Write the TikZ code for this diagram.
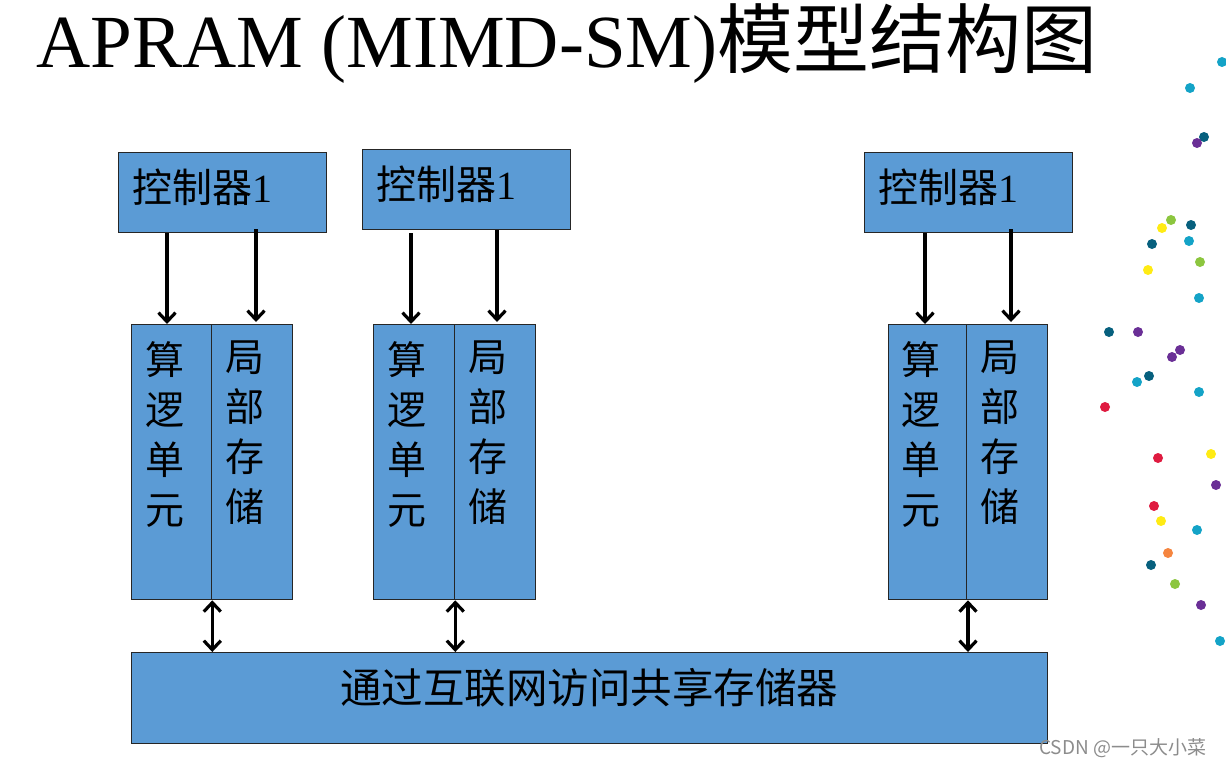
\documentclass[tikz,border=0pt]{standalone}
\usepackage{fontspec}
\setmainfont{Liberation Serif}
\newfontfamily\cjk{Noto Sans CJK SC}
\usetikzlibrary{arrows.meta}
\definecolor{boxblue}{HTML}{5B9BD5}
\definecolor{dcyan}{HTML}{14A3C7}
\definecolor{dteal}{HTML}{07607E}
\definecolor{dpurple}{HTML}{6A2F96}
\definecolor{dgreen}{HTML}{8CC63F}
\definecolor{dyellow}{HTML}{FFEB14}
\definecolor{dred}{HTML}{DF1B40}
\definecolor{dorange}{HTML}{F5853F}
\tikzset{
  bx/.style={draw=black!85, line width=1.3pt, fill=boxblue, inner sep=0pt, anchor=north west},
  arr/.style={line width=3.2pt, -{Straight Barb[length=9pt,width=17pt]}},
  barr/.style={line width=3.2pt, {Straight Barb[length=9pt,width=17pt]}-{Straight Barb[length=9pt,width=17pt]}},
  ctext/.style={font=\fontsize{40}{40}\selectfont, anchor=west, inner sep=0pt},
  vtext/.style={font=\fontsize{39}{50}\selectfont\cjk, align=center, anchor=north, inner sep=0pt}
}
\begin{document}
\begin{tikzpicture}[x=1pt,y=-1pt]
\useasboundingbox (0,0) rectangle (1226,768);
% title
\node[anchor=base west, inner sep=0pt, font=\fontsize{75}{75}\selectfont] (title) at (36,67) {APRAM (MIMD-SM){\fontsize{76}{76}\selectfont\cjk 模型结构图}};
% controllers
\node[bx, minimum width=208pt, minimum height=80pt] (c1) at (118,152) {};
\node[bx, minimum width=208pt, minimum height=80pt] (c2) at (362,149) {};
\node[bx, minimum width=208pt, minimum height=80pt] (c3) at (864,152) {};
\node[ctext] (c1t) at (132,187) {{\cjk 控制器}1};
\node[ctext] (c2t) at (376,184) {{\cjk 控制器}1};
\node[ctext] (c3t) at (878,187) {{\cjk 控制器}1};
% processors
\node[bx, minimum width=80pt, minimum height=275pt] (a1) at (131,324) {};
\node[bx, minimum width=81pt, minimum height=275pt] (m1) at (211,324) {};
\node[bx, minimum width=81pt, minimum height=275pt] (a2) at (373,324) {};
\node[bx, minimum width=81pt, minimum height=275pt] (m2) at (454,324) {};
\node[bx, minimum width=78pt, minimum height=275pt] (a3) at (888,324) {};
\node[bx, minimum width=81pt, minimum height=275pt] (m3) at (966,324) {};
\node[vtext] (a1t) at (165,341) {算\\逻\\单\\元};
\node[vtext] (m1t) at (245,341) {局\\部\\存\\储};
\node[vtext] (a2t) at (407,341) {算\\逻\\单\\元};
\node[vtext] (m2t) at (488,341) {局\\部\\存\\储};
\node[vtext] (a3t) at (921,341) {算\\逻\\单\\元};
\node[vtext] (m3t) at (1000,341) {局\\部\\存\\储};
% shared memory
\node[bx, minimum width=916pt, minimum height=91pt] (sm) at (131,652) {};
\node[font=\fontsize{41.5}{41.5}\selectfont\cjk, inner sep=0pt] (smt) at (589,688) {通过互联网访问共享存储器};
% arrows down
\draw[arr] (c1.south -| 167,0) -- (a1.north -| 167,0);
\draw[arr] (256,229) -- ([yshift=2pt]m1.north -| 256,0);
\draw[arr] (c2.south -| 411,0) ++(0,3) -- (a2.north -| 411,0);
\draw[arr] (c2.south -| 497,0) -- ([yshift=2pt]m2.north -| 497,0);
\draw[arr] (c3.south -| 925,0) -- (a3.north -| 925,0);
\draw[arr] (1011,229) -- ([yshift=2pt]m3.north -| 1011,0);
% bidirectional arrows
\draw[barr] (a1.south east) -- (sm.north -| a1.south east);
\draw[barr] (a2.south east) -- (sm.north -| a2.south east);
\draw[barr] (m3.south -| 968,0) -- (sm.north -| 968,0);
% watermark
\node[anchor=west, inner sep=0pt, text=black!45, font=\fontsize{19}{19}\cjk] (wm) at (1039,748) {CSDN @一只大小菜};
% decorative dots
\foreach \x/\y/\c in {1222/62/dcyan,1190/88/dcyan,1204/137/dteal,1197/143/dpurple,
  1171/220/dgreen,1162/228/dyellow,1191/225/dteal,1152/244/dteal,1189/241/dcyan,
  1200/262/dgreen,1148/270/dyellow,1199/298/dcyan,1109/332/dteal,1138/332/dpurple,
  1180/350/dpurple,1172/357/dpurple,1149/376/dteal,1137/382/dcyan,1199/392/dcyan,
  1105/407/dred,1158/458/dred,1211/454/dyellow,1216/485/dpurple,1154/506/dred,
  1161/521/dyellow,1197/530/dcyan,1168/553/dorange,1151/565/dteal,1175/584/dgreen,
  1201/605/dpurple,1220/641/dcyan}
  \fill[\c] (\x,\y) circle (5pt);
\end{tikzpicture}
\end{document}
